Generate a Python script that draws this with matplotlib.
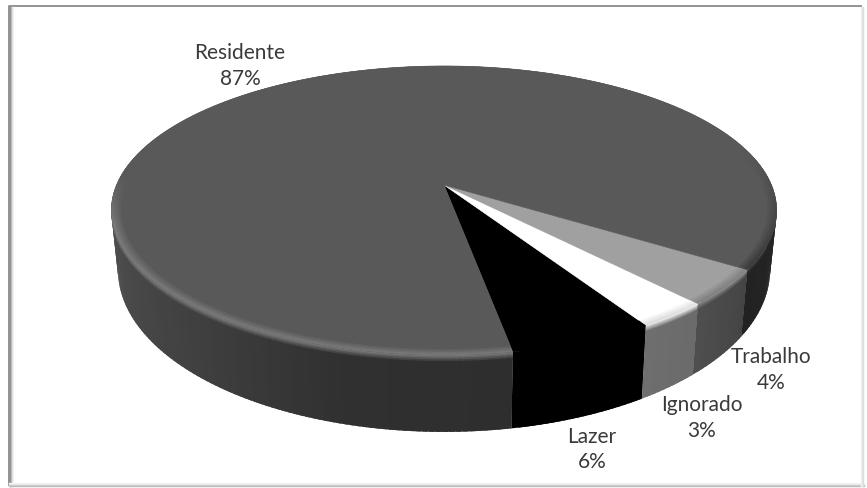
#
# 3D style pie, drawn by hand since matplotlib has no perspective pie
#
import numpy as np
import matplotlib
matplotlib.use('Agg')
import matplotlib.pyplot as plt
from matplotlib.colors import to_rgb
from matplotlib.patches import Polygon

# counter clockwise from the front
labels = ['Lazer', 'Ignorado', 'Trabalho', 'Residente']
values = [6, 3, 4, 87]

top_colors = ['#000000', '#ffffff', '#a0a0a0', '#595959']
label_pos = [(592, 437, 462), (702, 405, 431), (771, 357, 383), (240, 53, 79)]

start_angle = -80
cx, cy, a, b, k = 444, 185, 327.5, 140, 0.176


def rim(theta, r=1.0):
    # circle seen in perspective, centre stays at the apex
    t = np.radians(theta)
    x, y = r * np.cos(t), r * np.sin(t)
    w = 1 + k * y
    return cx + a * x / w, cy - b * y / w


def rim_low(theta):
    x, y = rim(theta)
    return cx + (x - cx) * 0.98, y + 77 - 0.12 * (355 - y)


def mix(c1, c2, f):
    c1, c2 = np.array(to_rgb(c1)), np.array(to_rgb(c2))
    return tuple(c1 + (c2 - c1) * f)


def ramp(theta, stops):
    xs = [s[0] for s in stops]
    return tuple(np.interp(theta, xs, [to_rgb(s[1])[i] for s in stops]) for i in range(3))


side_stops = [
    [(-80, '#000000'), (-58, '#000000')],
    [(-58, '#6e6e6e'), (-47, '#6a6a6a')],
    [(-47, '#4e4e4e'), (-33, '#444444')],
    [(-33, '#222222'), (-5, '#262626'), (175, '#4c4c4c'), (200, '#4c4c4c'),
     (230, '#3f3f3f'), (255, '#303030'), (280, '#2e2e2e')],
]
rim_stops = [
    [(-80, '#000000'), (-58, '#000000')],
    [(-58, '#dcdcdc'), (-47, '#e4e4e4')],
    [(-47, '#808080'), (-33, '#858585')],
    [(-33, '#3a3a3a'), (15, '#595959'), (175, '#595959'), (195, '#787878'), (280, '#777777')],
]

fig = plt.figure(figsize=(8.67, 4.88), dpi=100)
ax = fig.add_axes([0, 0, 1, 1])
ax.set_xlim(0, 867)
ax.set_ylim(488, 0)
ax.axis('off')

# frame
ax.plot([9, 9, 862], [486, 6, 6], color='#808080', lw=1.2, solid_capstyle='butt')
for i, c in enumerate(['#8c8c8c', '#b4b4b4', '#dcdcdc', '#f2f2f2']):
    ax.plot([10 + i, 10 + i], [7, 486], color=c, lw=1)
for i, c in enumerate(['#f6f6f6', '#ececec', '#d4d4d4', '#bcbcbc']):
    ax.plot([9, 864], [483 + i, 483 + i], color=c, lw=1)
for i, c in enumerate(['#f4f4f4', '#e4e4e4', '#dcdcdc']):
    ax.plot([861 + i, 861 + i], [7, 486], color=c, lw=1)

angles = start_angle + np.cumsum([0] + values) * 3.6

# side wall first, skipping the part hidden behind the top
# strips overlap a little so no seams show between them
bands = np.array([0, 0.02, 0.04, 0.06, 0.08, 1.0])
for i in range(len(values)):
    t0, t1 = angles[i], angles[i + 1]
    for s in np.arange(t0, t1, 1.0):
        # wrap so that -170 and 190 are the same place
        if not (s < 10 or s > 170):
            continue
        e = min(s + 1.8, t1)
        xa, ya = rim(s)
        xb, yb = rim(e)
        xc, yc = rim_low(e)
        xd, yd = rim_low(s)
        side = ramp(s, side_stops[i])
        edge = ramp(s, rim_stops[i])
        for f0, f1 in zip(bands[:-1], bands[1:]):
            col = mix(edge, side, min(1.0, f0 / 0.08))
            f2 = min(1.0, f1 + 0.02)
            pts = [(xa + (xd - xa) * f0, ya + (yd - ya) * f0),
                   (xb + (xc - xb) * f0, yb + (yc - yb) * f0),
                   (xb + (xc - xb) * f2, yb + (yc - yb) * f2),
                   (xa + (xd - xa) * f2, ya + (yd - ya) * f2)]
            ax.add_patch(Polygon(pts, closed=True, fc=col, ec='none', zorder=2))

# top face with a soft bevel to the rim
rs = [0.972, 0.979, 0.986, 0.993, 1.0]
for i in range(len(values)):
    th = np.linspace(angles[i], angles[i + 1], int(values[i] * 3.6) + 2)
    x, y = rim(th)
    pts = np.column_stack([np.r_[cx, x], np.r_[cy, y]])
    ax.add_patch(Polygon(pts, closed=True, fc=top_colors[i], ec=top_colors[i], lw=0.4, zorder=3))
    for j in range(len(rs) - 1):
        for n in range(len(th) - 1):
            s = th[n]
            e = th[min(n + 2, len(th) - 1)]
            col = mix(top_colors[i], ramp(s, rim_stops[i]), (j + 1) / (len(rs) - 1))
            xa, ya = rim(np.array([s, e]), rs[j])
            xb, yb = rim(np.array([e, s]), rs[j + 1])
            quad = np.column_stack([np.r_[xa, xb], np.r_[ya, yb]])
            ax.add_patch(Polygon(quad, closed=True, fc=col, ec='none', zorder=4 + j * 0.01))

# labels
for name, v, (lx, y1, y2) in zip(labels, values, label_pos):
    ax.text(lx, y1, name, ha='center', va='center', family='Lato', fontsize=15,
            color='#3a3a3a', zorder=5)
    ax.text(lx, y2, '%d%%' % v, ha='center', va='center', family='Lato', fontsize=15,
            color='#3a3a3a', zorder=5)

plt.savefig('out.png', dpi=100)
